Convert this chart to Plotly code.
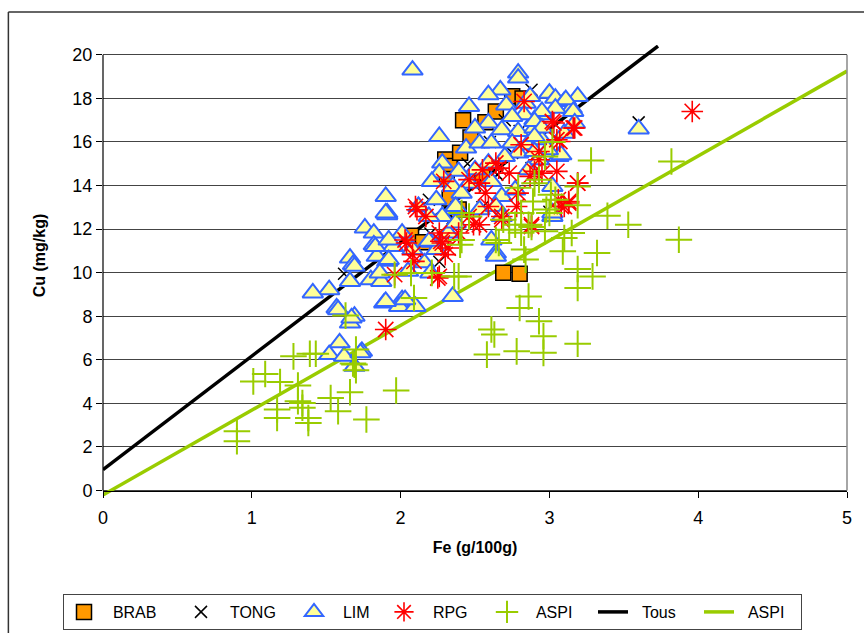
import plotly.graph_objects as go

# ---------------- data (Fe g/100g, Cu mg/kg) ----------------
BRAB_FE = [2.42, 2.47, 2.57, 2.64, 2.75, 2.82, 2.30, 2.33, 2.31, 2.40, 2.33, 2.39, 2.55, 2.07, 2.15, 2.69, 2.80]
BRAB_CU = [17.0, 16.2, 16.9, 17.4, 18.1, 18.0, 15.2, 14.9, 14.3, 15.5, 13.4, 12.9, 14.4, 11.7, 11.4, 10.0, 9.95]

TONG_FE = [3.60, 1.62, 2.26, 2.19, 2.88, 2.88, 3.00, 2.45, 2.50, 2.55, 2.60, 2.70, 2.35, 2.75, 2.65, 2.20, 2.10, 2.80]
TONG_CU = [16.9, 9.95, 10.5, 13.35, 18.4, 14.8, 12.8, 15.0, 14.0, 13.0, 16.0, 17.0, 12.5, 15.5, 14.5, 11.8, 11.0, 16.5]

LIM_FE = [2.08, 3.60, 1.90, 1.91, 1.76, 1.82, 1.82, 2.01, 1.95, 1.84, 1.91, 1.66, 1.68, 1.80, 1.66, 1.52,
          1.41, 1.87, 1.89, 2.01, 2.09, 1.99, 1.57, 1.66, 1.69, 1.59, 1.52, 1.62, 1.74, 1.69, 1.90, 2.10,
          2.35, 1.69, 1.86, 1.92, 1.83, 2.05, 2.16, 2.20, 1.58, 1.67, 1.73, 1.91, 2.03, 2.21, 2.24, 2.64,
          2.61, 3.02, 2.35, 2.79, 2.79, 2.67, 2.59, 2.46, 2.71, 2.84, 2.87, 3.00, 3.04, 3.10, 3.19, 3.15,
          2.95, 2.90, 2.83, 2.75, 2.59, 2.50, 2.26, 2.44, 2.53, 2.61, 2.68, 2.79, 2.90, 2.75, 2.85, 2.95,
          3.10, 3.06, 2.93, 2.79, 2.70, 2.59, 2.50, 2.39, 2.28, 2.26, 2.21, 2.35, 2.46, 2.41, 2.61, 2.68,
          2.77, 2.86, 3.02, 2.24, 2.12, 2.37, 2.28, 2.19, 1.90, 1.92, 2.08, 2.19, 2.32, 2.37, 2.53, 2.64,
          2.68, 3.02, 2.64, 3.11, 3.16, 3.04, 2.95, 3.17, 3.08, 2.99, 2.90, 2.95, 2.90, 2.90]
LIM_CU = [19.3, 16.6, 13.5, 12.66, 12.05, 11.82, 11.28, 11.82, 11.2, 10.75, 10.52, 10.67, 10.37, 9.68, 9.6, 9.22,
          9.07, 9.6, 8.61, 8.76, 8.45, 8.45, 8.38, 7.69, 8.0, 6.78, 6.24, 6.16, 6.39, 5.7, 8.68, 8.45,
          8.91, 10.29, 9.99, 10.6, 11.2, 10.06, 10.45, 9.99, 8.3, 7.92, 6.32, 12.74, 8.76, 11.4, 11.06, 10.9,
          11.5, 12.58, 12.9, 19.16, 18.93, 18.39, 18.17, 17.63, 17.7, 17.78, 18.09, 18.24, 18.01, 17.86, 18.09, 17.55,
          17.25, 17.02, 17.25, 17.17, 16.87, 16.64, 16.25, 15.72, 15.95, 15.95, 16.56, 16.48, 16.64, 15.95, 15.87, 16.1,
          16.4, 15.33, 15.18, 15.49, 15.33, 15.03, 14.72, 14.65, 15.03, 14.57, 14.19, 13.96, 14.11, 13.65, 14.19, 13.5,
          13.8, 14.72, 13.96, 13.35, 13.04, 13.04, 12.58, 12.58, 12.74, 11.5, 11.06, 11.44, 11.82, 12.28, 12.89, 13.04,
          12.58, 12.74, 10.75, 17.94, 17.4, 17.55, 17.4, 16.87, 15.41, 15.64, 16.94, 16.64, 16.25, 15.56]

RPG_FE = [3.96, 1.90, 3.19, 3.17, 3.05, 3.05, 3.13, 3.08, 2.88, 3.03, 2.93, 2.93, 2.90, 2.83, 3.02, 3.16,
          3.07, 3.19, 2.81, 2.64, 2.66, 2.73, 2.53, 2.57, 2.46, 2.55, 2.29, 2.59, 2.46, 2.53, 2.68, 2.79,
          2.87, 2.95, 2.88, 3.06, 3.13, 2.10, 2.17, 2.04, 2.27, 2.30, 2.08, 2.39, 2.26, 2.11, 1.96, 2.26,
          2.03, 2.09, 2.28, 2.32, 2.25, 2.49, 2.68, 3.10, 2.78]
RPG_CU = [17.4, 7.39, 14.11, 16.64, 16.1, 14.65, 13.2, 13.04, 12.2, 16.87, 15.56, 15.18, 14.65, 17.86, 16.94, 16.64,
          16.02, 14.11, 15.87, 15.03, 14.8, 14.57, 14.11, 13.65, 14.27, 14.72, 14.19, 13.04, 12.58, 12.2, 12.58, 13.65,
          14.42, 14.57, 12.12, 13.35, 13.27, 13.04, 12.58, 11.36, 11.44, 10.83, 10.83, 11.82, 11.82, 12.89, 9.91, 9.83,
          11.5, 10.52, 11.36, 11.13, 9.76, 12.2, 12.43, 13.04, 13.04]

ASPI_FE = [0.90, 0.90, 1.01, 1.09, 1.19, 1.17, 1.17, 1.28, 1.31, 1.31, 1.34, 1.34, 1.39, 1.43, 1.38, 1.38,
           1.53, 1.58, 1.66, 1.77, 1.97, 1.63, 1.70, 1.68, 1.70, 1.69, 1.96, 2.07, 2.09, 2.21, 2.36, 2.39,
           2.40, 2.41, 2.46, 2.41, 2.61, 2.63, 2.58, 2.78, 2.80, 2.86, 2.93, 2.96, 2.96, 3.19, 3.19, 3.19,
           3.29, 3.32, 3.09, 3.15, 3.10, 2.66, 2.64, 2.81, 2.83, 2.84, 2.69, 2.77, 2.86, 2.97, 2.88, 3.00,
           2.98, 3.01, 3.19, 3.19, 3.04, 2.90, 2.97, 3.28, 3.39, 3.53, 3.82, 3.87, 2.73, 2.81, 3.02, 2.89,
           2.79, 2.93]
ASPI_CU = [2.72, 2.26, 5.01, 5.35, 4.98, 3.72, 3.33, 6.16, 4.82, 4.10, 4.02, 3.80, 6.28, 6.28, 3.33, 3.10,
           4.25, 3.64, 4.51, 3.26, 4.59, 8.03, 6.47, 5.83, 5.52, 5.78, 9.90, 9.99, 8.84, 9.99, 9.83, 9.83,
           11.28, 11.50, 12.58, 12.74, 7.39, 7.16, 6.24, 6.39, 8.38, 8.91, 7.77, 7.08, 6.32, 6.74, 9.30, 10.17,
           9.83, 10.90, 10.98, 11.82, 11.59, 11.36, 11.50, 11.83, 11.06, 10.60, 12.43, 12.20, 12.20, 11.90, 12.10, 12.74,
           12.90, 13.58, 13.10, 13.96, 13.35, 14.10, 15.33, 15.15, 12.61, 12.20, 15.10, 11.51, 11.97, 12.74, 16.0, 13.27,
           13.9, 14.27]

TOUS_LINE_FE = [0.0, 3.73]
TOUS_LINE_CU = [0.96, 20.4]
ASPI_LINE_FE = [0.0, 5.0]
ASPI_LINE_CU = [-0.20, 19.25]

X_TICKS = [0, 1, 2, 3, 4, 5]
Y_TICKS = [0, 2, 4, 6, 8, 10, 12, 14, 16, 18, 20]

# ---------------- figure ----------------
FONT = "Liberation Sans, Arial, sans-serif"
W, H = 864, 633
ML, MR, MT, MB = 103, 14, 45, 137
YMIN, YMAX = -0.25, 20.45
PW, PH = W - ML - MR, H - MT - MB
PAD = "\u00a0\u00a0"


def py(v):
    return (v - YMIN) / (YMAX - YMIN)


def px_paper_x(p):
    return (p - ML) / PW


def px_paper_y(p):
    return (H - MB - p) / PH


GREEN = "#99CC00"
fig = go.Figure()

fig.add_trace(go.Scatter(x=TOUS_LINE_FE, y=TOUS_LINE_CU, mode="lines", name=PAD + "Tous",
                         line=dict(color="black", width=3.5), legendrank=6, legendwidth=61))
fig.add_trace(go.Scatter(x=ASPI_LINE_FE, y=ASPI_LINE_CU, mode="lines", name=PAD + "ASPI",
                         line=dict(color=GREEN, width=3.5), legendrank=7, legendwidth=57))

fig.add_trace(go.Scatter(x=BRAB_FE, y=BRAB_CU, mode="markers", name=PAD + "BRAB", legendrank=1,
                         legendwidth=72,
                         marker=dict(symbol="square", size=15, color="#FF9900",
                                     line=dict(color="black", width=1.5))))
fig.add_trace(go.Scatter(x=TONG_FE, y=TONG_CU, mode="markers", name=PAD + "TONG", legendrank=2,
                         legendwidth=68,
                         marker=dict(symbol="x-thin-open", size=12, color="black",
                                     line=dict(color="black", width=1.5))))
fig.add_trace(go.Scatter(x=LIM_FE, y=LIM_CU, mode="markers", name=PAD + "LIM", legendrank=3,
                         legendwidth=45,
                         marker=dict(symbol="triangle-up", size=18, color="#FFFF99",
                                     line=dict(color="#3366FF", width=2))))
fig.add_trace(go.Scatter(x=RPG_FE, y=RPG_CU, mode="markers", name=PAD + "RPG", legendrank=4,
                         legendwidth=58,
                         marker=dict(symbol="asterisk-open", size=18, color="red",
                                     line=dict(color="red", width=1.6))))
fig.add_trace(go.Scatter(x=ASPI_FE, y=ASPI_CU, mode="markers", name=PAD + "ASPI", legendrank=5,
                         legendwidth=61,
                         marker=dict(symbol="cross-thin-open", size=19, color=GREEN,
                                     line=dict(color=GREEN, width=2))))

shapes = [
    dict(type="line", xref="paper", yref="paper", x0=0, x1=0, y0=py(0), y1=py(20),
         line=dict(color="black", width=1.2)),
    dict(type="line", xref="paper", yref="paper", x0=1, x1=1, y0=py(0), y1=py(20),
         line=dict(color="#888888", width=1.5)),
    dict(type="line", xref="paper", yref="paper", x0=px_paper_x(8), x1=px_paper_x(8),
         y0=px_paper_y(12), y1=px_paper_y(700), line=dict(color="#333333", width=1.5)),
    dict(type="line", xref="paper", yref="paper", x0=px_paper_x(8), x1=px_paper_x(900),
         y0=px_paper_y(12), y1=px_paper_y(12), line=dict(color="#333333", width=1.5)),
]

fig.update_layout(
    width=W, height=H,
    margin=dict(l=ML, r=MR, t=MT, b=MB),
    paper_bgcolor="white", plot_bgcolor="white",
    font=dict(family=FONT, color="black", size=16),
    shapes=shapes,
    showlegend=True,
    legend=dict(orientation="h", xref="container", yref="container",
                x=63 / W, y=1 - 594 / H, xanchor="left", yanchor="top",
                bgcolor="white", bordercolor="#444444", borderwidth=1,
                font=dict(family=FONT, size=16, color="black"),
                tracegroupgap=0, itemsizing="trace"),
    xaxis=dict(range=[0, 5], tickvals=X_TICKS, showgrid=False, zeroline=False,
               showline=True, linecolor="black", linewidth=1.2,
               ticks="outside", ticklen=6, tickcolor="black",
               anchor="free", position=py(0), ticklabelstandoff=5,
               tickfont=dict(size=18, family=FONT),
               title=dict(text="<b>Fe (g/100g)</b>", font=dict(size=16, family=FONT), standoff=14)),
    yaxis=dict(range=[YMIN, YMAX], tickvals=Y_TICKS, showgrid=True, gridcolor="#444444",
               gridwidth=1, zeroline=False, showline=False,
               ticks="outside", ticklen=6, tickcolor="black",
               tickfont=dict(size=18, family=FONT)),
    annotations=[dict(text="<b>Cu (mg/kg)</b>", textangle=-90, xref="paper", yref="paper",
                      x=px_paper_x(40), y=px_paper_y(255), showarrow=False,
                      font=dict(size=16, family=FONT), xanchor="center", yanchor="middle")],
)

fig.write_html("out.html")
